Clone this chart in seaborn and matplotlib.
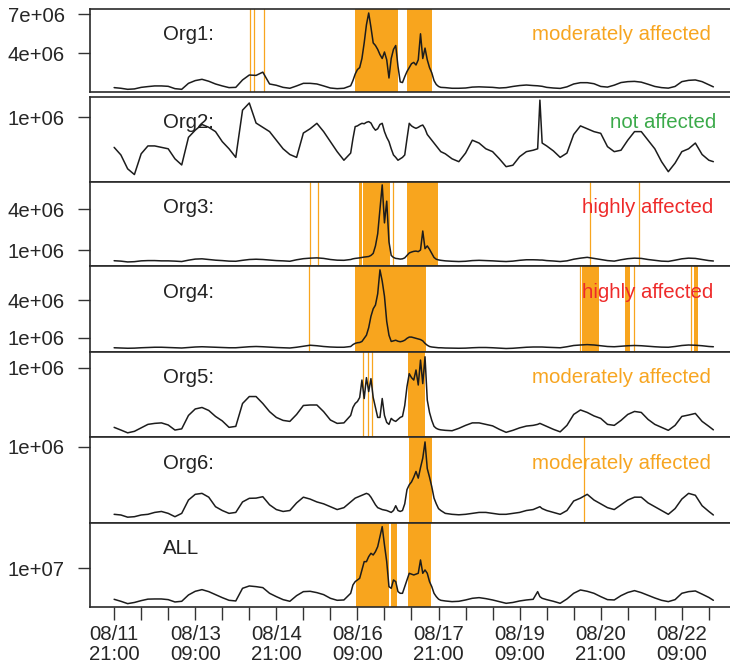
import matplotlib
matplotlib.use("Agg")
import matplotlib.pyplot as plt
import seaborn as sns

sns.set_style("white")
plt.rcParams['font.family'] = ['Liberation Sans', 'DejaVu Sans']

# sampling hours since 08/11 21:00 (3-hourly, hourly during the event)
hours = (list(range(0, 106, 3)) + list(range(106, 146)) + list(range(147, 187, 3))
         + [188, 189, 190] + list(range(192, 265, 3)) + [266])

# traffic volumes, in millions
org1 = [1.36, 1.31, 1.23, 1.26, 1.38, 1.44, 1.49, 1.49, 1.46, 1.28,
        1.23, 1.69, 1.9, 2.0, 1.85, 1.64, 1.49, 1.36, 1.38, 1.95,
        2.33, 2.3, 2.55, 1.64, 1.54, 1.38, 1.31, 1.49, 1.69, 1.69,
        1.64, 1.49, 1.33, 1.28, 1.31, 1.5,
        1.9, 2.4, 2.75, 2.9, 3.6, 4.8, 6.2, 7.1, 6.0, 4.8,
        4.6, 4.3, 3.9, 3.6, 4.1, 3.5, 2.1, 3.6, 4.3, 4.6,
        3.0, 1.8, 1.75, 2.2, 2.6, 2.9, 3.2, 3.3, 3.1, 3.5,
        5.5, 3.6, 4.4, 3.5, 2.9, 2.5, 1.9, 1.6, 1.45, 1.38,
        1.36, 1.31, 1.31, 1.33, 1.4, 1.42, 1.4, 1.38, 1.33, 1.36, 1.45, 1.52, 1.56, 1.52,
        1.5, 1.48, 1.46,
        1.38, 1.33, 1.3, 1.42, 1.64, 1.74, 1.74, 1.66, 1.45, 1.4,
        1.55, 1.75, 1.82, 1.84, 1.78, 1.62, 1.45, 1.36, 1.32, 1.45,
        1.82, 1.92, 1.95, 1.82, 1.58,
        1.42]

org2 = [0.79, 0.737, 0.64, 0.6, 0.745, 0.80, 0.80, 0.79, 0.78, 0.71,
        0.667, 0.86, 0.91, 0.95, 0.93, 0.9, 0.83, 0.78, 0.72, 1.05,
        1.1, 0.96, 0.93, 0.9, 0.84, 0.78, 0.74, 0.72, 0.89, 0.92,
        0.958, 0.9, 0.83, 0.76, 0.70, 0.75,
        0.85, 0.935, 0.94, 0.95, 0.958, 0.955, 0.965, 0.97, 0.96, 0.93,
        0.91, 0.92, 0.95, 0.958, 0.9, 0.86, 0.83, 0.78, 0.737, 0.72,
        0.70, 0.71, 0.72, 0.737, 0.85, 0.958, 0.94, 0.93, 0.923, 0.93,
        0.94, 0.946, 0.92, 0.88, 0.86, 0.84, 0.82, 0.8, 0.78, 0.76,
        0.745, 0.71, 0.69, 0.75, 0.84, 0.82, 0.78, 0.76, 0.71, 0.655, 0.665, 0.725, 0.76, 0.77,
        0.78, 1.12, 0.82,
        0.8, 0.765, 0.72, 0.75, 0.88, 0.94, 0.92, 0.9, 0.888, 0.795,
        0.76, 0.77, 0.84, 0.9, 0.9, 0.84, 0.78, 0.69, 0.62, 0.68,
        0.76, 0.78, 0.82, 0.74, 0.7,
        0.69]

org3 = [0.21, 0.18, 0.12, 0.14, 0.2, 0.22, 0.22, 0.2, 0.2, 0.18,
        0.15, 0.25, 0.33, 0.35, 0.3, 0.25, 0.22, 0.18, 0.17, 0.24,
        0.3, 0.32, 0.3, 0.26, 0.22, 0.2, 0.17, 0.28, 0.36, 0.4,
        0.42, 0.38, 0.3, 0.25, 0.24, 0.3,
        0.35, 0.38, 0.4, 0.42, 0.45, 0.48, 0.5, 0.52, 0.6, 0.75,
        1.3, 2.2, 4.0, 5.8, 3.0, 4.6, 1.6, 0.6, 0.45, 0.38,
        0.36, 0.33, 0.35, 0.42, 0.6, 0.78, 0.85, 0.9, 0.92, 0.88,
        1.0, 2.4, 1.1, 1.3, 1.05, 0.75, 0.45, 0.32, 0.27, 0.24,
        0.2, 0.17, 0.15, 0.17, 0.22, 0.24, 0.22, 0.2, 0.17, 0.15, 0.18, 0.24, 0.28, 0.28,
        0.27, 0.26, 0.26,
        0.22, 0.19, 0.15, 0.2, 0.32, 0.4, 0.46, 0.38, 0.3, 0.22,
        0.18, 0.28, 0.36, 0.4, 0.38, 0.3, 0.24, 0.18, 0.16, 0.25,
        0.35, 0.4, 0.38, 0.3, 0.22,
        0.19]

org4 = [0.2, 0.18, 0.16, 0.17, 0.2, 0.22, 0.24, 0.24, 0.22, 0.2,
        0.18, 0.22, 0.26, 0.28, 0.26, 0.24, 0.22, 0.2, 0.2, 0.24,
        0.28, 0.3, 0.28, 0.25, 0.22, 0.2, 0.18, 0.24, 0.32, 0.4,
        0.36, 0.3, 0.26, 0.24, 0.24, 0.3,
        0.45, 0.55, 0.6, 0.62, 0.7, 0.95, 1.2, 1.8, 2.7, 3.3,
        3.6, 4.5, 6.4, 5.5, 4.3, 2.3, 1.2, 0.7, 0.75, 0.8,
        0.72, 0.68, 0.72, 0.8, 0.95, 1.05, 1.05, 1.0, 0.95, 0.9,
        0.85, 0.75, 0.55, 0.4, 0.3, 0.26, 0.24, 0.22, 0.2, 0.2,
        0.18, 0.17, 0.16, 0.17, 0.2, 0.22, 0.22, 0.2, 0.17, 0.14, 0.16, 0.2, 0.24, 0.26,
        0.26, 0.26, 0.26,
        0.24, 0.22, 0.2, 0.28, 0.38, 0.42, 0.45, 0.42, 0.36, 0.3,
        0.28, 0.32, 0.36, 0.38, 0.36, 0.32, 0.28, 0.25, 0.24, 0.3,
        0.38, 0.42, 0.4, 0.36, 0.3,
        0.28]

org5 = [0.40, 0.373, 0.345, 0.36, 0.395, 0.43, 0.44, 0.445, 0.424, 0.373,
        0.385, 0.52, 0.585, 0.6, 0.57, 0.51, 0.465, 0.4, 0.41, 0.64,
        0.71, 0.71, 0.64, 0.558, 0.5, 0.47, 0.46, 0.53, 0.62, 0.625,
        0.625, 0.558, 0.474, 0.44, 0.445, 0.52,
        0.6, 0.64, 0.66, 0.7, 0.876, 0.69, 0.9, 0.76, 0.89, 0.7,
        0.6, 0.5, 0.5, 0.69, 0.52, 0.45, 0.43, 0.49, 0.47, 0.46,
        0.48, 0.5, 0.51, 0.62, 0.81, 0.94, 0.9, 0.876, 0.977, 0.826,
        1.077, 0.84, 1.11, 0.675, 0.55, 0.47, 0.41, 0.39, 0.38, 0.375,
        0.37, 0.366, 0.39, 0.42, 0.445, 0.445, 0.43, 0.415, 0.38, 0.35, 0.37, 0.395, 0.413, 0.42,
        0.43, 0.44, 0.43,
        0.41, 0.38, 0.355, 0.42, 0.53, 0.575, 0.55, 0.515, 0.49, 0.43,
        0.42, 0.47, 0.53, 0.56, 0.55, 0.48, 0.43, 0.4, 0.37, 0.42,
        0.51, 0.524, 0.54, 0.46, 0.41,
        0.375]

org6 = [0.29, 0.283, 0.26, 0.265, 0.283, 0.29, 0.31, 0.32, 0.3, 0.265,
        0.3, 0.44, 0.5, 0.51, 0.47, 0.37, 0.33, 0.3, 0.31, 0.42,
        0.458, 0.46, 0.475, 0.39, 0.34, 0.32, 0.33, 0.41, 0.47, 0.45,
        0.42, 0.4, 0.37, 0.34, 0.36, 0.42,
        0.44, 0.46, 0.47, 0.48, 0.49, 0.5, 0.51, 0.5, 0.47, 0.43,
        0.39, 0.36, 0.35, 0.34, 0.335, 0.33, 0.32, 0.31, 0.33, 0.38,
        0.33, 0.32, 0.33, 0.4, 0.55, 0.6, 0.63, 0.68, 0.74, 0.67,
        0.78, 0.88, 1.05, 0.77, 0.68, 0.58, 0.46, 0.4, 0.35, 0.33,
        0.3, 0.29, 0.285, 0.29, 0.3, 0.31, 0.31, 0.3, 0.29, 0.29, 0.3, 0.31, 0.33, 0.34,
        0.36, 0.37, 0.35,
        0.33, 0.31, 0.29, 0.33, 0.43, 0.46, 0.5, 0.44, 0.4, 0.36,
        0.34, 0.39, 0.44, 0.47, 0.47, 0.41, 0.37, 0.33, 0.29, 0.35,
        0.45, 0.51, 0.49, 0.38, 0.32,
        0.283]

total = [8.14, 8.02, 7.88, 7.95, 8.06, 8.15, 8.16, 8.16, 8.12, 7.98,
         8.02, 8.4, 8.62, 8.72, 8.6, 8.42, 8.24, 8.08, 8.04, 8.8,
         8.94, 8.9, 8.84, 8.5, 8.3, 8.12, 8.02, 8.36, 8.6, 8.62,
         8.54, 8.42, 8.2, 8.08, 8.1, 8.5,
         9.0, 9.2, 9.3, 9.4, 9.9, 10.4, 10.4, 10.7, 10.9, 10.8,
         11.0, 11.3, 11.9, 12.5, 11.4, 10.4, 8.9, 8.8, 9.3, 9.2,
         8.6, 8.5, 8.5, 8.9, 9.3, 9.7, 9.65, 9.6, 9.65, 9.7,
         10.5, 9.7, 9.9, 9.7, 9.2, 8.9, 8.5, 8.3, 8.15, 8.08,
         8.04, 8.0, 8.02, 8.1, 8.2, 8.24, 8.18, 8.1, 8.0, 7.9, 7.95, 8.04, 8.1, 8.14,
         8.6, 8.3, 8.2,
         8.12, 8.02, 7.9, 8.16, 8.5, 8.7, 8.62, 8.5, 8.3, 8.12,
         8.1, 8.36, 8.55, 8.66, 8.54, 8.38, 8.22, 8.08, 8.0, 8.12,
         8.5, 8.6, 8.64, 8.45, 8.25,
         8.08]

series = [org1, org2, org3, org4, org5, org6, total]
names = ["Org1:", "Org2:", "Org3:", "Org4:", "Org5:", "Org6:", "ALL"]
status = ["moderately affected", "not affected", "highly affected", "highly affected",
          "moderately affected", "moderately affected", ""]
status_colors = ["#F7A520", "#3BAA4A", "#EE2A2A", "#EE2A2A", "#F7A520", "#F7A520", "#F7A520"]

# flagged anomaly windows (hours) and single flagged samples
spans = [
    [(107.0, 126.0), (130.0, 141.1)],
    [],
    [(108.9, 110.1), (110.6, 122.5), (130.0, 143.6)],
    [(107.0, 138.6), (207.7, 215.3), (226.7, 229.1), (257.3, 259.3)],
    [(130.4, 138.2)],
    [(130.8, 140.9)],
    [(107.4, 121.9), (122.9, 125.4), (130.4, 140.5)],
]
marks = [
    [60.3, 62.1, 66.5],
    [],
    [87.0, 90.3, 124.0, 211.4, 233.1],
    [86.4, 206.6, 230.8, 256.0],
    [110.3, 112.8, 114.5],
    [208.7],
    [],
]

ytick_vals = [[4, 7], [1], [1, 4], [1, 4], [1], [1], [10]]
ytick_text = [["4e+06", "7e+06"], ["1e+06"], ["1e+06", "4e+06"], ["1e+06", "4e+06"],
              ["1e+06"], ["1e+06"], ["1e+07"]]
ylims = [(1.0, 7.408), (0.55, 1.144), (-0.179, 6.034), (-0.114, 6.706),
         (0.30, 1.161), (0.202, 1.0987), (7.696, 12.736)]

xtick_hours = list(range(0, 265, 12))
xtick_text = ["08/11\n21:00", "", "", "08/13\n09:00", "", "", "08/14\n21:00", "", "",
              "08/16\n09:00", "", "", "08/17\n21:00", "", "", "08/19\n09:00", "", "",
              "08/20\n21:00", "", "", "08/22\n09:00", ""]

ORANGE = "#F8A51E"
W, H = 730, 668
fig = plt.figure(figsize=(W / 100, H / 100), dpi=100)

tops = [9.0, 96.7, 181.7, 266.0, 351.7, 437.3, 522.7]
bots = [92.3, 181.7, 266.0, 351.7, 437.3, 522.7, 606.7]
x_left_px, x_right_px = 89.8, 738.6
xlim = (-10.8, 277.2)
status_right = [711, 716, 713, 713, 711, 711, 711]

FS = 14.7
for i in range(7):
    ax = fig.add_axes([x_left_px / W, 1 - bots[i] / H,
                       (x_right_px - x_left_px) / W, (bots[i] - tops[i]) / H])
    for a, b in spans[i]:
        ax.axvspan(a, b, color=ORANGE, lw=0, zorder=1)
    for m in marks[i]:
        ax.axvline(m, color=ORANGE, lw=0.9, zorder=1)
    sns.lineplot(x=hours, y=series[i], ax=ax, color="#1c1c1c", linewidth=1.1,
                 estimator=None, sort=False, zorder=3)
    ax.set_xlim(*xlim)
    ax.set_ylim(*ylims[i])
    ax.set_yticks(ytick_vals[i])
    ax.set_yticklabels(ytick_text[i], fontsize=FS)
    ax.tick_params(axis="y", direction="out", length=9, width=1.0, color="#333333",
                   pad=9, left=True)
    ax.set_xlabel("")
    ax.set_ylabel("")
    for s in ax.spines.values():
        s.set_color("#2a2a2a")
        s.set_linewidth(1.2)
    h_px = bots[i] - tops[i]
    base_y = 1 - 31.5 / h_px
    ax.text((163 - x_left_px) / (x_right_px - x_left_px), base_y, names[i],
            transform=ax.transAxes, fontsize=FS, color="#222222",
            ha="left", va="baseline", zorder=2)
    if status[i]:
        ax.text((status_right[i] - x_left_px) / (x_right_px - x_left_px), base_y, status[i],
                transform=ax.transAxes, fontsize=FS, color=status_colors[i],
                ha="right", va="baseline", zorder=4)
    if i < 6:
        ax.set_xticks([])
    else:
        ax.set_xticks(xtick_hours)
        ax.set_xticklabels(xtick_text, fontsize=FS)
        ax.tick_params(axis="x", direction="out", length=9, width=1.0, color="#333333",
                       pad=4, bottom=True)
        for lbl in ax.get_xticklabels():
            lbl.set_linespacing(1.05)

fig.savefig("out.png", dpi=100)
